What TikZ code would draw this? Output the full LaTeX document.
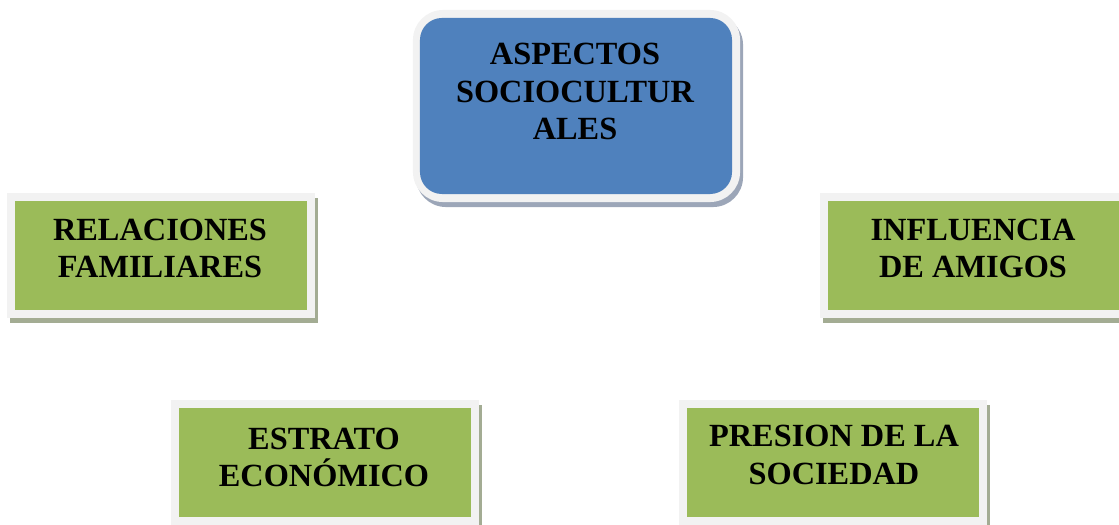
\documentclass[tikz,border=0pt]{standalone}
\usepackage{fontspec}
\setmainfont{Liberation Serif}
\usepackage{tikz}
\usetikzlibrary{shadows}

\definecolor{boxgreen}{HTML}{9BBB59}
\definecolor{boxblue}{HTML}{4F81BD}
\definecolor{bordergrey}{HTML}{F2F2F2}
\definecolor{shadowgreen}{HTML}{A3AC93}
\definecolor{shadowblue}{HTML}{9CA6B8}

\tikzset{
  greenbox/.style={rectangle, fill=bordergrey, inner sep=0pt,
    minimum width=7.7cm, minimum height=3.125cm,
    path picture={\fill[boxgreen] ([shift={(0.2cm,-0.2cm)}]path picture bounding box.north west)
      rectangle ([shift={(-0.2cm,0.2cm)}]path picture bounding box.south east);},
    drop shadow={shadow xshift=0.075cm, shadow yshift=-0.125cm, fill=shadowgreen, opacity=1}},
  bluebox/.style={rectangle, rounded corners=0.75cm, fill=bordergrey, inner sep=0pt,
    minimum width=8.175cm, minimum height=4.8cm,
    path picture={\fill[boxblue, rounded corners=0.55cm] ([shift={(0.175cm,-0.2cm)}]path picture bounding box.north west)
      rectangle ([shift={(-0.2cm,0.2cm)}]path picture bounding box.south east);},
    drop shadow={shadow xshift=0.075cm, shadow yshift=-0.125cm, fill=shadowblue, opacity=1}},
  boxtext/.style={font=\bfseries\fontsize{23}{26.5}\selectfont, align=center, inner sep=0pt}
}

\begin{document}
\begin{tikzpicture}[x=0.025cm, y=-0.025cm]
  \useasboundingbox (0,0) rectangle (1119,525);
  \clip (0,0) rectangle (1119,525);

  % boxes
  \node[bluebox] (asp) at (576.5,106) {};
  \node[greenbox] (rel) at (161,255.5) {};
  \node[greenbox] (inf) at (974,255.5) {};
  \node[greenbox] (est) at (325,462.5) {};
  \node[greenbox] (pre) at (833,462.5) {};

  % texts
  \node[boxtext] (asptext) at (575,91.5) {ASPECTOS\\SOCIOCULTUR\\ALES};
  \node[boxtext] (reltext) at (160,248.5) {RELACIONES\\FAMILIARES};
  \node[boxtext] (inftext) at (973,248.5) {INFLUENCIA\\DE AMIGOS};
  \node[boxtext] (esttext) at (324,457.5) {ESTRATO\\ECONÓMICO};
  \node[boxtext] (pretext) at (834,455) {PRESION DE LA\\SOCIEDAD};
\end{tikzpicture}
\end{document}
